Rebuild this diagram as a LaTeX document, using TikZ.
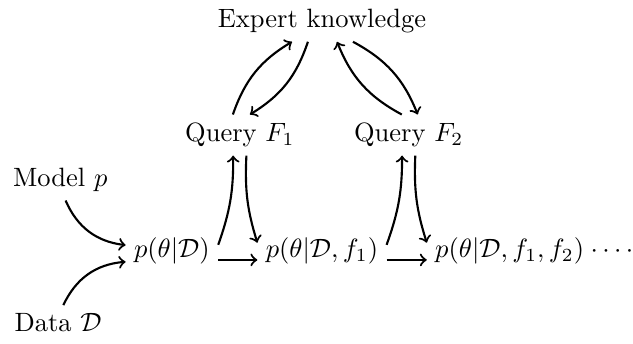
\documentclass[tikz,border=0pt]{standalone}
\usepackage{amsmath}
\begin{document}
\begin{tikzpicture}[>=to, every node/.style={inner sep=3pt}, arr/.style={->, thick}]
		\useasboundingbox (0,0) rectangle (8.395,4.549);
		\node[anchor=base] (ek) at (4.27,4.18) {Expert knowledge};
		\node[anchor=base] (q1) at (3.18,2.67) {Query $F_1$};
		\node[anchor=base] (q2) at (5.42,2.67) {Query $F_2$};
		\node[anchor=base] (mp) at (0.80,2.07) {Model $p$};
		\node[anchor=base] (dd) at (0.77,0.15) {Data $\mathcal{D}$};
		\node[anchor=base] (p0) at (2.28,1.13) {$p(\theta|\mathcal{D})$};
		\node[anchor=base] (p1) at (4.27,1.13) {$p(\theta|\mathcal{D},f_1)$};
		\node[anchor=base] (p2) at (6.76,1.13) {$p(\theta|\mathcal{D},f_1,f_2)$};
		\node[anchor=base west] (dots) at (7.72,1.13) {$\cdots\cdots$};
		\draw[arr] ([xshift=2pt]mp.south) to[bend right=30] ([yshift=2.3pt]p0.west);
		\draw[arr] ([xshift=2pt]dd.north) to[bend left=30] ([yshift=-4pt]p0.west);
		\draw[arr] ([yshift=-3.3pt]p0.east) -- ([yshift=-3.3pt]p1.west);
		\draw[arr] ([yshift=-3.3pt]p1.east) -- ([yshift=-3.3pt]p2.west);
		\draw[arr] ([yshift=2.4pt]p0.east) to[bend right=10] ([xshift=-2.5pt]q1.south);
		\draw[arr] ([xshift=2.5pt]q1.south) to[bend right=10] ([yshift=3.2pt]p1.west);
		\draw[arr] ([yshift=2.4pt]p1.east) to[bend right=10] ([xshift=-2.5pt]q2.south);
		\draw[arr] ([xshift=2.5pt]q2.south) to[bend right=10] ([yshift=3.2pt]p2.west);
		\draw[arr] ([xshift=-2.6pt]q1.north) to[bend left=20] ([xshift=-11.3pt]ek.south);
		\draw[arr] ([xshift=-5.3pt]ek.south) to[bend left=20] ([xshift=3.8pt]q1.north);
		\draw[arr] ([xshift=11.7pt]ek.south) to[bend left=20] ([xshift=3.4pt]q2.north);
		\draw[arr] ([xshift=-2.6pt]q2.north) to[bend left=20] ([xshift=5.7pt]ek.south);
	\end{tikzpicture}
\end{document}
